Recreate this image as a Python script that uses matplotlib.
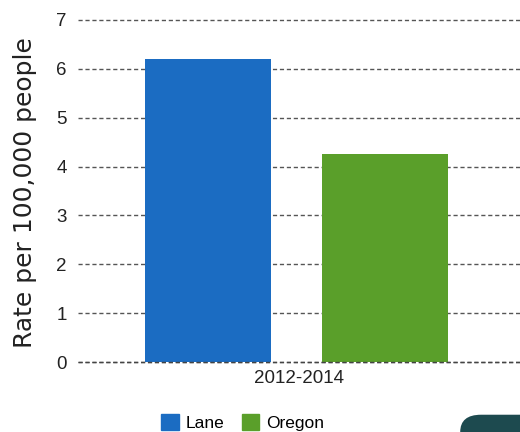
import matplotlib
matplotlib.use('Agg')
import matplotlib.pyplot as plt
from matplotlib.patches import FancyBboxPatch, Patch

# data
periods = ['2012-2014']
series = ['Lane', 'Oregon']
values = [6.2, 4.25]
colors = ['#1b6cc2', '#5a9f2a']
yticks = [0, 1, 2, 3, 4, 5, 6, 7]

plt.rcParams['font.family'] = ['Liberation Sans', 'DejaVu Sans']

fig = plt.figure(figsize=(5.2, 4.32), dpi=100)
ax = fig.add_axes([0.15, 0.162, 0.85, 0.792])

offsets = [-0.205, 0.195]
width = 0.285
for off, v, c in zip(offsets, values, colors):
	ax.bar(off, v, width=width, color=c, zorder=2)

ax.set_xlim(-0.5, 0.5)
ax.set_ylim(0, 7)
ax.set_yticks(yticks)
ax.set_xticks([0])
ax.set_xticklabels(periods, fontsize=12.5)
ax.tick_params(axis='both', length=0, labelsize=13.5, colors='#222222')
ax.tick_params(axis='y', pad=8)
ax.tick_params(axis='x', pad=6)
for s in ax.spines.values():
	s.set_visible(False)
ax.yaxis.grid(True, linestyle=(0, (3, 2)), color='#555555', linewidth=1.0)
ax.set_axisbelow(True)
for line in ax.get_ygridlines():
	line.set_clip_on(False)
# baseline dashes run across the bottom of the bars
ax.axhline(0, linestyle=(0, (3, 2)), color='#444444', linewidth=1.0, zorder=3, clip_on=False)

fig.text(0.048, 0.555, 'Rate per 100,000 people', rotation=90, fontsize=18,
	family=['DejaVu Sans'], color='#222222', va='center', ha='center')

handles = [Patch(color=c, label=s) for c, s in zip(colors, series)]
fig.legend(handles=handles, loc='center', bbox_to_anchor=(0.467, 0.022), ncol=2,
	frameon=False, fontsize=12.5, handlelength=1.0, handleheight=1.0,
	handletextpad=0.4, columnspacing=1.0)

# dark corner artifact at bottom right
fig.patches.append(FancyBboxPatch((0.885, -0.05), 0.2, 0.09, boxstyle='round,pad=0,rounding_size=0.04',
	transform=fig.transFigure, facecolor='#1d4a4f', edgecolor='none'))

fig.savefig('out.png', dpi=100)
